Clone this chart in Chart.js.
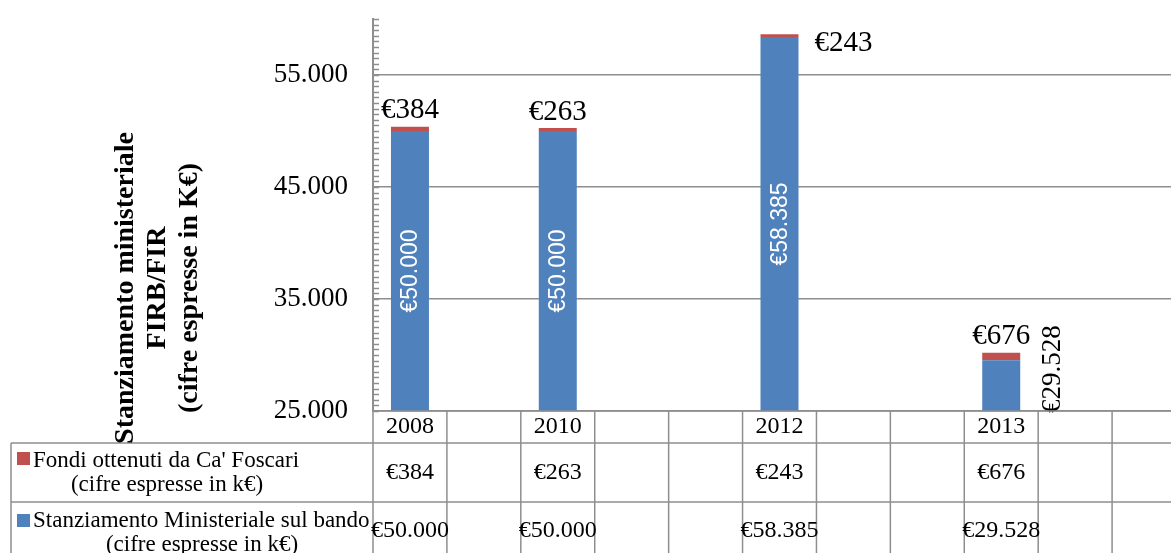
<!DOCTYPE html>
<html><head><meta charset="utf-8">
<script src="https://cdn.jsdelivr.net/npm/chart.js@4.4.1/dist/chart.umd.min.js"></script>
<style>
html,body{margin:0;padding:0;overflow:hidden;background:#fff;width:1171px;height:553px}
#wrap{position:relative;width:1190px;height:553px}
canvas{display:block}
</style></head><body>
<div id="wrap"><canvas id="c" width="1190" height="553"></canvas></div>
<script>
// ---- data ----
const categories = ['2008', '', '2010', '', '', '2012', '', '', '2013', '', ''];
const stanziamento = [50000, null, 50000, null, null, 58385, null, null, 29528, null, null];
const fondi = [384, null, 263, null, null, 243, null, null, 676, null, null];
const yTicks = [25000, 35000, 45000, 55000];
const yMin = 25000;
const yMax = 60000;
const yMinorStep = 500;
const seriesFondi = ["Fondi ottenuti da Ca' Foscari", '(cifre espresse in k€)'];
const seriesStanz = ['Stanziamento Ministeriale sul bando', '(cifre espresse in k€)'];
const yTitle = ['Stanziamento ministeriale', 'FIRB/FIR', '(cifre espresse in K€)'];

const BLUE = '#4F81BD', RED = '#C0504D', GRID = '#8e8e8e';
const SERIF = '"Liberation Serif", "Times New Roman", serif';
const SANS = '"Liberation Sans", Arial, sans-serif';

function fmt(v) { return String(v).replace(/\B(?=(\d{3})+(?!\d))/g, '.'); }
function eur(v) { return '€' + fmt(v); }

const overlay = {
  id: 'overlay',
  afterDatasetsDraw(chart) {
    const ctx = chart.ctx, area = chart.chartArea;
    const ys = chart.scales.y;
    ctx.save();
    // minor ticks on y axis (inside)
    ctx.strokeStyle = GRID; ctx.lineWidth = 1.5;
    for (let v = yMin; v <= yMax; v += yMinorStep) {
      const y = Math.round(ys.getPixelForValue(v)) + 0.5;
      ctx.beginPath(); ctx.moveTo(area.left, y); ctx.lineTo(area.left + 6, y); ctx.stroke();
    }
    // data labels
    const m0 = chart.getDatasetMeta(0), m1 = chart.getDatasetMeta(1);
    stanziamento.forEach((v, i) => {
      if (v == null) return;
      const b = m0.data[i];
      const top = Math.max(b.y, area.top), bot = Math.min(b.base, area.bottom);
      const txt = eur(v);
      ctx.font = '23px ' + SANS;
      const w = ctx.measureText(txt).width;
      if (w + 8 < bot - top) {
        ctx.save();
        ctx.translate(b.x + 1, (top + bot) / 2);
        ctx.rotate(-Math.PI / 2);
        ctx.fillStyle = '#fff'; ctx.textAlign = 'center'; ctx.textBaseline = 'middle';
        ctx.fillText(txt, 0, 0);
        ctx.restore();
      } else {
        ctx.font = '27px ' + SERIF;
        const w2 = ctx.measureText(txt).width;
        ctx.save();
        ctx.translate(b.x + b.width / 2 + 33, area.bottom + 2 - w2 / 2);
        ctx.rotate(-Math.PI / 2);
        ctx.fillStyle = '#000'; ctx.textAlign = 'center'; ctx.textBaseline = 'middle';
        ctx.fillText(txt, 0, 0);
        ctx.restore();
      }
    });
    fondi.forEach((v, i) => {
      if (v == null) return;
      const b = m1.data[i];
      const txt = eur(v);
      ctx.font = '29px ' + SERIF; ctx.fillStyle = '#000'; ctx.textBaseline = 'alphabetic';
      if (b.y - 36 > area.top) {
        ctx.textAlign = 'center';
        ctx.fillText(txt, b.x, b.y - 8.5);
      } else {
        ctx.textAlign = 'left';
        ctx.fillText(txt, b.x + b.width / 2 + 16, b.y + 17);
      }
    });
    ctx.restore();
  },
  afterDraw(chart) {
    const ctx = chart.ctx, area = chart.chartArea, xs = chart.scales.x;
    const H = chart.height;
    const n = categories.length;
    const colW = (area.right - area.left) / n;
    const row1 = area.bottom, row2 = 443, row3 = 502, tblLeft = 11;
    ctx.save();
    ctx.strokeStyle = GRID; ctx.lineWidth = 1.5;
    [row2, row3].forEach(y => {
      ctx.beginPath(); ctx.moveTo(tblLeft, y); ctx.lineTo(area.right, y); ctx.stroke();
    });
    ctx.beginPath(); ctx.moveTo(area.left, row1); ctx.lineTo(area.right, row1); ctx.stroke();
    for (let i = 0; i <= n; i++) {
      const x = area.left + i * colW;
      ctx.beginPath(); ctx.moveTo(x, row1); ctx.lineTo(x, H); ctx.stroke();
    }
    ctx.beginPath(); ctx.moveTo(tblLeft, row2); ctx.lineTo(tblLeft, H); ctx.stroke();
    ctx.fillStyle = '#000'; ctx.textAlign = 'center'; ctx.textBaseline = 'middle';
    ctx.font = '24px ' + SERIF;
    categories.forEach((c, i) => {
      const x = xs.getPixelForValue(i);
      if (c) ctx.fillText(c, x, 427);
      if (fondi[i] != null) ctx.fillText(eur(fondi[i]), x, 473);
      if (stanziamento[i] != null) ctx.fillText(eur(stanziamento[i]), x, 531);
    });
    ctx.font = '23px ' + SERIF;
    ctx.fillStyle = RED; ctx.fillRect(17, 452, 13, 13);
    ctx.fillStyle = BLUE; ctx.fillRect(17, 514, 13, 13);
    ctx.fillStyle = '#000';
    ctx.textAlign = 'left';
    ctx.fillText(seriesFondi[0], 33, 461);
    ctx.fillText(seriesStanz[0], 33, 521);
    ctx.textAlign = 'center';
    ctx.fillText(seriesFondi[1], 167, 485);
    ctx.fillText(seriesStanz[1], 202, 545);
    ctx.font = 'bold 28px ' + SERIF;
    const tx = [126, 158, 190];
    yTitle.forEach((t, k) => {
      ctx.save();
      ctx.translate(tx[k], 288);
      ctx.rotate(-Math.PI / 2);
      ctx.textAlign = 'center'; ctx.textBaseline = 'middle';
      ctx.fillText(t, 0, 0);
      ctx.restore();
    });
    ctx.restore();
  }
};

new Chart(document.getElementById('c'), {
  type: 'bar',
  data: {
    labels: categories,
    datasets: [
      { label: seriesStanz.join(' '), data: stanziamento, backgroundColor: BLUE, barPercentage: 0.514, categoryPercentage: 1 },
      { label: seriesFondi.join(' '), data: fondi, backgroundColor: RED, barPercentage: 0.514, categoryPercentage: 1 }
    ]
  },
  options: {
    responsive: false,
    animation: false,
    devicePixelRatio: 1,
    layout: { padding: { top: 19, right: 4, bottom: 142, left: 0 } },
    plugins: { legend: { display: false }, tooltip: { enabled: false } },
    scales: {
      x: { display: false, stacked: true },
      y: {
        stacked: true, min: yMin, max: yMax,
        afterBuildTicks: s => { s.ticks = yTicks.map(v => ({ value: v })); },
        afterFit: s => { s.width = 373; s.paddingTop = 0; s.paddingBottom = 0; },
        grid: { color: GRID, lineWidth: 1.5, drawTicks: false },
        border: { color: GRID, width: 2 },
        ticks: { padding: 25, color: '#000', font: { family: SERIF, size: 27 }, callback: v => fmt(v) }
      }
    }
  },
  plugins: [overlay]
});
</script>
</body></html>
